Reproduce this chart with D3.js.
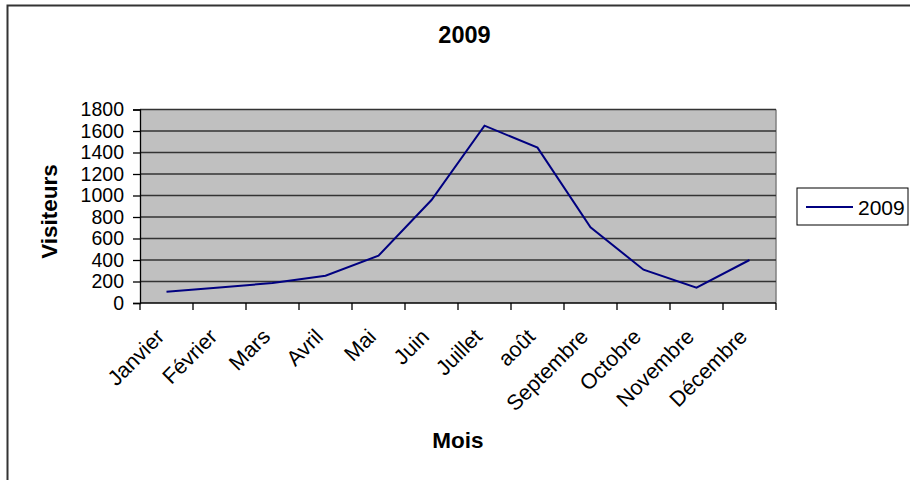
<!DOCTYPE html>
<html><head><meta charset="utf-8">
<script src="https://cdn.jsdelivr.net/npm/d3@7"></script>
<style>
html,body{margin:0;padding:0;background:#fff;}
text{font-family:"Liberation Sans",Arial,sans-serif;}
</style></head>
<body>
<svg id="c" width="910" height="480"></svg>
<script>
const months = ["Janvier","Février","Mars","Avril","Mai","Juin","Juillet","août","Septembre","Octobre","Novembre","Décembre"];
const visitors2009 = [105,145,185,254,440,958,1650,1445,704,310,142,400];
const yTicks = [0,200,400,600,800,1000,1200,1400,1600,1800];
const seriesName = "2009";
const chartTitle = "2009";
const xTitle = "Mois";
const yTitle = "Visiteurs";

const svg = d3.select("#c");
const L = 140, R = 776, T = 109.5, B = 303;

// outer frame (cropped on right/bottom)
svg.append("path").attr("d","M7.5,485 L7.5,5.5 L915,5.5")
  .attr("fill","none").attr("stroke","#333").attr("stroke-width",2);

const x = d3.scaleBand().domain(months).range([L,R]);
const y = d3.scaleLinear().domain([0,1800]).range([B,T]);

svg.append("rect").attr("x",L).attr("y",T).attr("width",R-L).attr("height",B-T).attr("fill","#C0C0C0");
svg.append("line").attr("x1",R).attr("x2",R).attr("y1",T).attr("y2",B).attr("stroke","#808080").attr("stroke-width",1.5);

// gridlines
svg.append("g").selectAll("line").data(yTicks.filter(d=>d>0)).join("line")
  .attr("x1",L).attr("x2",R).attr("y1",d=>y(d)).attr("y2",d=>y(d))
  .attr("stroke","#333").attr("stroke-width",1.3);

// y axis
const yAxis = d3.axisLeft(y).tickValues(yTicks).tickFormat(d3.format("d")).tickSize(7).tickPadding(9);
const gy = svg.append("g").attr("transform",`translate(${L},0)`).call(yAxis);
gy.select(".domain").attr("stroke","#000").attr("stroke-width",1.3);
gy.selectAll(".tick line").attr("stroke","#000").attr("stroke-width",1.3);
gy.selectAll(".tick text").attr("font-size",19.5).attr("fill","#000")
  .style("font-family","'Liberation Sans',Arial,sans-serif");

// x axis with ticks at band boundaries
const bounds = d3.range(months.length+1).map(i=>L + i*x.step());
const gx = svg.append("g");
gx.append("line").attr("x1",L).attr("x2",R).attr("y1",B).attr("y2",B).attr("stroke","#000").attr("stroke-width",1.3);
gx.selectAll("line.t").data(bounds).join("line").attr("class","t")
  .attr("x1",d=>d).attr("x2",d=>d).attr("y1",B).attr("y2",B+7).attr("stroke","#000").attr("stroke-width",1.3);
gx.selectAll("text").data(months).join("text")
  .attr("transform",d=>`translate(${x(d)+x.bandwidth()/2-1},${B+35}) rotate(-45)`)
  .attr("text-anchor","end").attr("font-size",21.5).attr("fill","#000").text(d=>d);

// line
const line = d3.line().x((d,i)=>x(months[i])+x.bandwidth()/2).y(d=>y(d));
svg.append("path").datum(visitors2009).attr("d",line)
  .attr("fill","none").attr("stroke","#000080").attr("stroke-width",2);

// titles
svg.append("text").attr("x",464.5).attr("y",43).attr("text-anchor","middle")
  .attr("font-size",23.5).attr("font-weight","bold").text(chartTitle);
svg.append("text").attr("x",(L+R)/2).attr("y",448).attr("text-anchor","middle")
  .attr("font-size",22.5).attr("font-weight","bold").text(xTitle);
svg.append("text").attr("transform","translate(57,211.5) rotate(-90)").attr("text-anchor","middle")
  .attr("font-size",22.5).attr("font-weight","bold").text(yTitle);

// legend
const lg = svg.append("g");
lg.append("rect").attr("x",797).attr("y",188).attr("width",111).attr("height",37)
  .attr("fill","#fff").attr("stroke","#000").attr("stroke-width",1);
lg.append("line").attr("x1",806).attr("x2",853).attr("y1",207).attr("y2",207)
  .attr("stroke","#000080").attr("stroke-width",2);
lg.append("text").attr("x",858).attr("y",214.5).attr("font-size",21).text(seriesName);
</script>
</body></html>
